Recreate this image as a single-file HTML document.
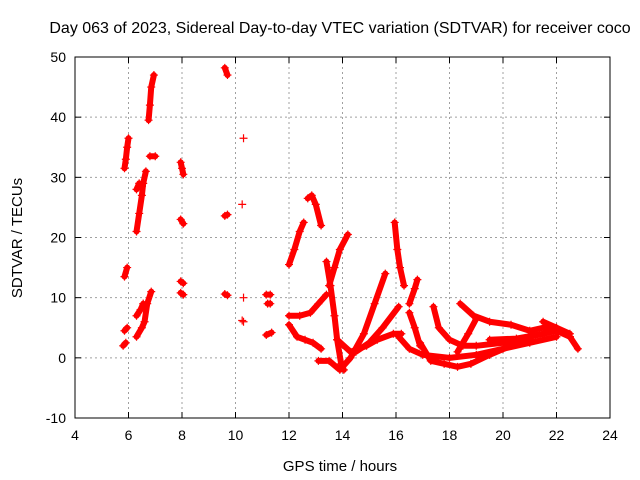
<!DOCTYPE html>
<html><head><meta charset="utf-8"><style>
body{margin:0;background:#fff}
svg{display:block;font-family:"Liberation Sans",sans-serif}
</style></head><body>
<svg id="c" width="640" height="480"></svg>
<script>
const xTicks=[4,6,8,10,12,14,16,18,20,22,24];
const yTicks=[-10,0,10,20,30,40,50];
const tracks=[
[[5.85,31.5],[5.9,33],[5.95,35],[6.0,36.5]],
[[5.85,13.5],[5.95,15]],
[[5.85,4.5],[5.95,5]],
[[5.8,2],[5.9,2.5]],
[[6.3,21],[6.4,24],[6.5,27],[6.55,29],[6.65,31]],
[[6.3,28],[6.4,29],[6.5,28.5]],
[[6.3,3.5],[6.5,5],[6.6,6],[6.7,9],[6.85,11]],
[[6.3,7],[6.45,8],[6.55,9]],
[[6.75,39.5],[6.8,42],[6.85,45],[6.95,47]],
[[6.8,33.5],[7.0,33.5]],
[[7.95,32.5],[8.0,31.5],[8.05,30.5]],
[[7.95,23],[8.05,22.3]],
[[7.95,12.7],[8.05,12.4]],
[[7.95,10.8],[8.05,10.5]],
[[9.6,48.2],[9.7,47]],
[[9.6,23.6],[9.7,23.8]],
[[9.6,10.6],[9.7,10.4]],
[[11.15,10.5],[11.3,10.5]],
[[11.2,9],[11.3,9]],
[[11.15,3.8],[11.35,4.2]],
[[12.0,15.5],[12.2,18],[12.4,21],[12.55,22.5]],
[[12.7,26.5],[12.85,27],[13.0,25.5],[13.2,22]],
[[12.0,7],[12.4,7],[12.8,7.5],[13.1,9],[13.4,10.5]],
[[12.0,5.5],[12.3,3.5],[12.6,3],[12.9,2.5],[13.2,1.5]],
[[13.4,16],[13.55,12],[13.7,7],[13.8,3],[13.95,-1],[14.05,-2]],
[[13.5,12],[13.7,15],[13.9,18],[14.2,20.5]],
[[13.1,-0.5],[13.5,-0.5],[13.9,-2],[14.3,0],[14.8,4],[15.2,9],[15.6,14]],
[[13.8,3],[14.3,1],[14.9,2],[15.3,3],[15.9,4],[16.2,4]],
[[14.5,1],[15.0,2.5],[15.5,5],[16.1,8.5]],
[[15.95,22.5],[16.05,18],[16.15,15],[16.3,12]],
[[16.5,9],[16.7,11.5],[16.8,13]],
[[16.5,7.5],[16.7,5],[16.9,2]],
[[16.1,3.5],[16.5,1.5],[17,0.5],[18,0],[19,0.5],[20,1.5],[21,2.5],[22,3.5]],
[[16.9,2.5],[17.3,-0.5],[17.8,-1],[18.3,-1.5],[18.8,-1],[19.5,0.5],[20.3,2],[21,3]],
[[17.4,8.5],[17.6,5],[18,3],[18.5,2],[19,2],[20,2.5],[21,3.5],[22,4.5]],
[[18.3,1],[18.7,4],[19.0,6.5]],
[[18.4,9],[18.9,7],[19.5,6],[20.3,5.5],[21.0,4.5],[21.5,5],[22,5],[22.5,3.5],[22.8,1.5]],
[[19.5,3],[20.5,3.2],[21.5,4],[22,4.5],[22.5,3.5]],
[[21.5,6],[22,5],[22.5,4]]
];
const singles=[[10.3,36.5],[10.25,25.5],[10.3,10],[10.25,6.2],[10.3,6]];
const L=75,R=610,T=57,B=418;
const sx=h=>L+(h-4)/20*(R-L);
const sy=v=>B-(v+10)/60*(B-T);
const svg=document.getElementById('c');
const NS='http://www.w3.org/2000/svg';
function mk(tag,attrs,parent){const e=document.createElementNS(NS,tag);for(const k in attrs)e.setAttribute(k,attrs[k]);(parent||svg).appendChild(e);return e;}
xTicks.forEach(t=>{const x=sx(t);
 if(t>4&&t<24){const g=mk('line',{x1:x,y1:T,x2:x,y2:B,stroke:'#a0a0a0','stroke-dasharray':'2,3'});}
 const tl=mk('line',{x1:x,y1:B,x2:x,y2:B-6,stroke:'#000'});
 const tl2=mk('line',{x1:x,y1:T,x2:x,y2:T+6,stroke:'#000'});
 const tx=mk('text',{x:x,y:B+22,'text-anchor':'middle','font-size':14});tx.textContent=t;});
yTicks.forEach(t=>{const y=sy(t);
 if(t>-10&&t<50){const g=mk('line',{x1:L,y1:y,x2:R,y2:y,stroke:'#a0a0a0','stroke-dasharray':'2,3'});}
 const tl=mk('line',{x1:L,y1:y,x2:L+6,y2:y,stroke:'#000'});
 const tl2=mk('line',{x1:R,y1:y,x2:R-6,y2:y,stroke:'#000'});
 const tx=mk('text',{x:L-9,y:y+5,'text-anchor':'end','font-size':14});tx.textContent=t;});
const frame=mk('rect',{x:L,y:T,width:R-L,height:B-T,fill:'none',stroke:'#000'});

function plus(h,v){const x=sx(h),y=sy(v);const p=mk('path',{d:`M${x-4},${y}h8M${x},${y-4}v8`,stroke:'#f00','stroke-width':1.2});
 }
tracks.forEach(tr=>{const pl=mk('polyline',{points:tr.map(p=>sx(p[0])+','+sy(p[1])).join(' '),fill:'none',stroke:'#f00','stroke-width':6,'stroke-linejoin':'round','stroke-linecap':'round'});
 
 tr.forEach(p=>plus(p[0],p[1]));});
singles.forEach(p=>plus(p[0],p[1]));
const ti=mk('text',{x:340,y:33,'text-anchor':'middle','font-size':16});ti.textContent='Day 063 of 2023, Sidereal Day-to-day VTEC variation (SDTVAR) for receiver coco';

const xl=mk('text',{x:340,y:471,'text-anchor':'middle','font-size':15});xl.textContent='GPS time / hours';

const yl=mk('text',{x:0,y:0,'text-anchor':'middle','font-size':15,transform:'translate(22,238) rotate(-90)'});yl.textContent='SDTVAR / TECUs';

</script>
</body></html>
